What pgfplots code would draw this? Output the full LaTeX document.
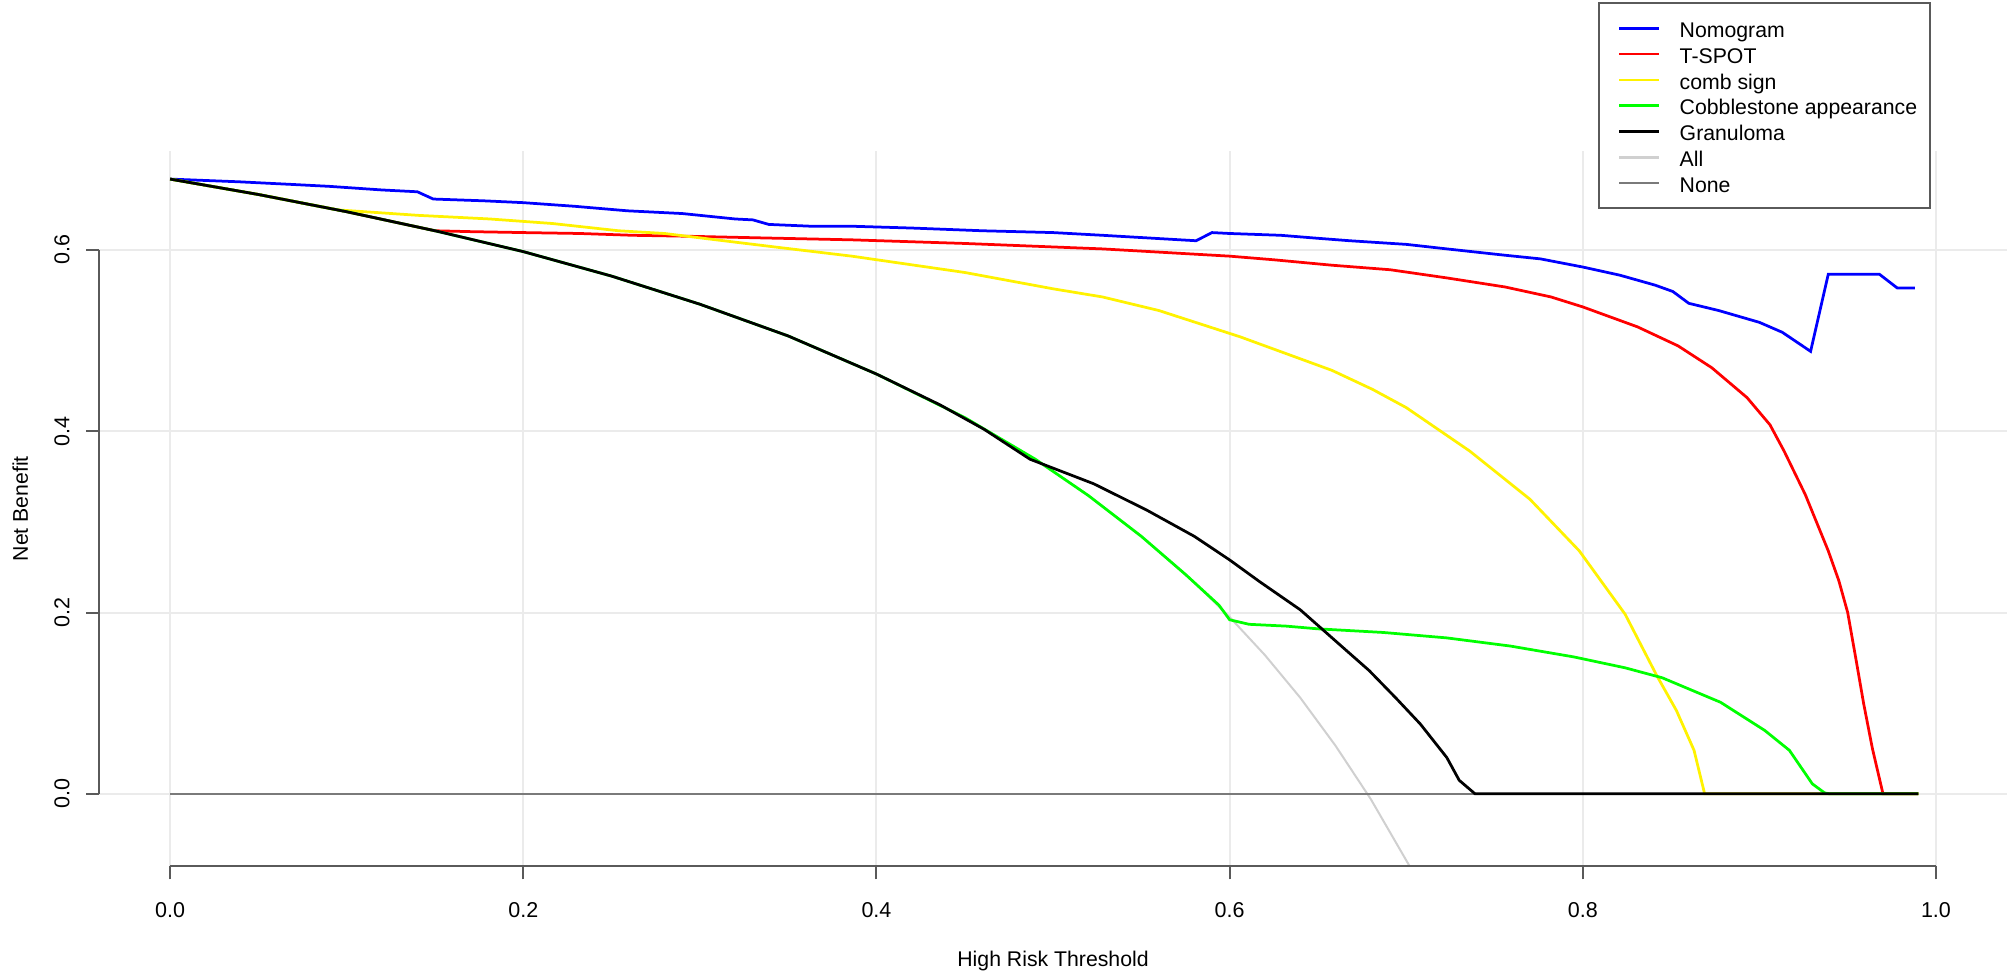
\documentclass[border=0pt]{standalone}
\usepackage{fontspec}
\setmainfont{Liberation Sans}
\usepackage{pgfplots}
\pgfplotsset{compat=1.18}
\definecolor{gridc}{HTML}{EBEBEB}
\definecolor{axc}{HTML}{5A5A5A}
\definecolor{allc}{HTML}{D0D0D0}
\definecolor{nonec}{HTML}{7A7A7A}

\begin{document}
\begin{tikzpicture}
\begin{axis}[
  name=ax,
  scale only axis,
  width=762.9bp, height=286.2bp,
  xmin=-0.04, xmax=1.04, ymin=-0.08, ymax=0.709,
  clip=false,
  axis x line*=bottom, axis y line*=left,
  axis line style={draw=none},
  xtick={0,0.2,0.4,0.6,0.8,1.0},
  xticklabels={0.0,0.2,0.4,0.6,0.8,1.0},
  ytick={0,0.2,0.4,0.6},
  yticklabels={0.0,0.2,0.4,0.6},
  tick align=outside,
  major tick length=5.2bp,
  tick style={axc, line width=0.8bp},
  tick label style={font=\fontsize{8.6bp}{10bp}\selectfont},
  xticklabel style={anchor=north, inner ysep=9bp},
  yticklabel style={rotate=90, anchor=south, inner ysep=6.6bp},
  grid=major,
  major grid style={gridc, line width=0.8bp},
  legend style={
    at={(axis cs:0.8086,0.873)}, anchor=north west,
    draw=axc, line width=0.8bp, fill=white,
    inner xsep=5.2bp, inner ysep=6.3bp,
    font=\fontsize{8.5bp}{10bp}\selectfont,
    row sep=2.93bp,
    nodes={inner sep=0pt, text height=7.4bp, text depth=0pt},
    /tikz/every odd column/.append style={column sep=7.6bp},
  },
  legend cell align=left,
  legend image code/.code={\path (-2.4bp,0bp); \draw[#1] (0bp,0bp) -- (16bp,0bp);},
]

% reference lines first, so the models sit on top
\addplot[allc, line width=0.8bp, forget plot] coordinates {
  (0,0.678)(0.05,0.661)(0.10,0.642)(0.15,0.621)(0.20,0.598)(0.25,0.571)
  (0.30,0.540)(0.35,0.505)(0.40,0.463)(0.45,0.415)(0.49,0.369)(0.52,0.329)
  (0.55,0.284)(0.58,0.233)(0.60,0.195)(0.62,0.153)(0.64,0.106)(0.66,0.053)
  (0.68,-0.006)(0.702,-0.080)};
\addplot[nonec, line width=1bp, forget plot] coordinates {(0,0)(0.99,0)};

% Nomogram
\addplot[blue, line width=1.1bp] coordinates {
  (0,0.678)(0.039,0.675)(0.070,0.672)(0.090,0.670)(0.120,0.666)(0.140,0.664)
  (0.149,0.656)(0.178,0.654)(0.200,0.652)(0.229,0.648)(0.259,0.643)(0.290,0.640)
  (0.320,0.634)(0.330,0.633)(0.339,0.628)(0.363,0.626)(0.386,0.626)(0.420,0.624)
  (0.460,0.621)(0.500,0.619)(0.528,0.616)(0.581,0.610)(0.590,0.619)(0.600,0.618)
  (0.629,0.616)(0.648,0.613)(0.668,0.610)(0.700,0.606)(0.723,0.601)(0.756,0.594)
  (0.776,0.590)(0.800,0.581)(0.821,0.572)(0.841,0.561)(0.851,0.554)(0.860,0.541)
  (0.877,0.533)(0.900,0.520)(0.913,0.509)(0.929,0.488)(0.939,0.573)(0.968,0.573)
  (0.978,0.558)(0.988,0.558)};
\addlegendentry{Nomogram}

% T-SPOT
\addplot[red, line width=1.1bp] coordinates {
  (0,0.678)(0.05,0.661)(0.10,0.642)(0.15,0.621)(0.171,0.620)(0.2,0.619)
  (0.232,0.618)(0.262,0.616)(0.292,0.615)(0.338,0.613)(0.386,0.611)(0.45,0.607)
  (0.528,0.601)(0.6,0.593)(0.625,0.589)(0.658,0.583)(0.691,0.578)(0.723,0.569)
  (0.756,0.559)(0.782,0.548)(0.8,0.537)(0.831,0.515)(0.854,0.494)(0.873,0.470)
  (0.893,0.437)(0.906,0.407)(0.914,0.378)(0.926,0.330)(0.939,0.268)(0.945,0.235)
  (0.95,0.200)(0.955,0.145)(0.959,0.100)(0.964,0.050)(0.97,0)(0.99,0)};
\addlegendentry{T-SPOT}

% comb sign
\addplot[yellow, line width=1.1bp] coordinates {
  (0,0.678)(0.05,0.661)(0.095,0.644)(0.1405,0.638)(0.181,0.634)(0.2165,0.629)
  (0.254,0.621)(0.28,0.618)(0.305,0.612)(0.343,0.603)(0.386,0.593)(0.45,0.575)
  (0.5,0.557)(0.528,0.548)(0.56,0.533)(0.606,0.504)(0.658,0.467)(0.681,0.446)
  (0.7,0.426)(0.736,0.378)(0.77,0.325)(0.798,0.268)(0.824,0.198)(0.842,0.130)
  (0.853,0.092)(0.863,0.048)(0.869,0)(0.99,0)};
\addlegendentry{comb sign}

% Cobblestone appearance
\addplot[green, line width=1.1bp] coordinates {
  (0,0.678)(0.05,0.661)(0.10,0.642)(0.15,0.621)(0.20,0.598)(0.25,0.571)
  (0.30,0.540)(0.35,0.505)(0.40,0.463)(0.45,0.415)(0.49,0.369)(0.52,0.329)
  (0.55,0.284)(0.575,0.242)(0.594,0.208)(0.6,0.192)(0.611,0.187)(0.632,0.185)
  (0.650,0.182)(0.687,0.178)(0.723,0.172)(0.759,0.163)(0.795,0.151)(0.824,0.139)
  (0.845,0.128)(0.878,0.101)(0.903,0.070)(0.917,0.048)(0.930,0.011)(0.937,0.001)
  (0.94,0)(0.99,0)};
\addlegendentry{Cobblestone appearance}

% Granuloma
\addplot[black, line width=1.1bp] coordinates {
  (0,0.678)(0.05,0.661)(0.10,0.642)(0.15,0.621)(0.20,0.598)(0.25,0.571)
  (0.30,0.540)(0.35,0.505)(0.40,0.463)(0.436,0.429)(0.461,0.402)(0.487,0.369)
  (0.523,0.342)(0.553,0.313)(0.58,0.284)(0.6,0.258)(0.617,0.234)(0.64,0.203)
  (0.665,0.160)(0.679,0.136)(0.694,0.106)(0.708,0.077)(0.723,0.040)(0.730,0.015)
  (0.739,0)(0.99,0)};
\addlegendentry{Granuloma}

\addlegendimage{allc, line width=1.1bp}
\addlegendentry{All}
\addlegendimage{nonec, line width=1bp}
\addlegendentry{None}

% R-style axes: lines only between first and last tick
\draw[axc, line width=0.8bp] (axis cs:0,-0.08) -- (axis cs:1,-0.08);
\draw[axc, line width=0.8bp] (axis cs:-0.04,0) -- (axis cs:-0.04,0.6);

\node[anchor=base, inner sep=0pt, font=\fontsize{8.5bp}{10bp}\selectfont]
  at ([yshift=-40.2bp]axis description cs:0.5,0) {High Risk Threshold};
\node[rotate=90, anchor=base, inner sep=0pt, font=\fontsize{8.5bp}{10bp}\selectfont]
  at ([xshift=-28.6bp]axis description cs:0,0.5) {Net Benefit};
\end{axis}
\pgfresetboundingbox
\path[use as bounding box] ([xshift=-39.8bp,yshift=-42.6bp]ax.south west)
  rectangle ([xshift=0.56bp,yshift=60.4bp]ax.north east);
\end{tikzpicture}
\end{document}
